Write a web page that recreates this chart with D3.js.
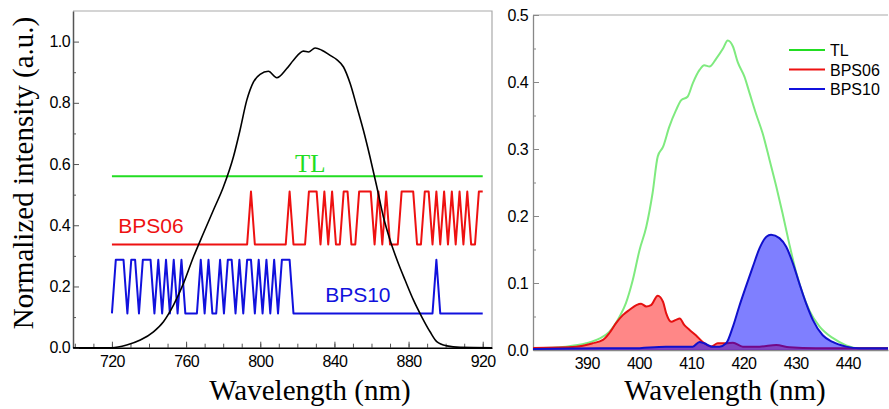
<!DOCTYPE html>
<html>
<head>
<meta charset="utf-8">
<script src="https://cdn.jsdelivr.net/npm/d3@7"></script>
<style>
  body { margin: 0; background: #fff; }
  svg { display: block; background: #fff; }
  .tick text { font-family: "Liberation Sans", Arial, sans-serif; font-size: 16px; letter-spacing: -0.6px; fill: #000; }
  .title { font-family: "Liberation Serif", "Times New Roman", serif; font-size: 29px; fill: #000; }
  .lbl { font-family: "Liberation Sans", Arial, sans-serif; font-size: 21px; }
  .legend text { font-family: "Liberation Sans", Arial, sans-serif; font-size: 16px; fill: #000; }
</style>
</head>
<body>
<svg width="889" height="409"></svg>
<script>
// ---- left panel: laser spectrum + binary phase sequences ----
var laserWl = [699, 720, 728, 735.3, 742.4, 747.8, 753.2, 758.6, 764, 769.3, 774.7, 780.1, 785.5, 789.1, 792.7,
  796.3, 799.9, 804.4, 808.9, 814.3, 817.9, 823.3, 826, 829.6, 833.2, 837.7, 841.3, 844.9, 848.5, 852.1,
  855.6, 859.2, 862.9, 866.4, 870, 874.5, 878.1, 882.6, 887.1, 891.6, 895.2, 900.6, 907.8, 925];
var laserInt = [0, 0, 0.009, 0.025, 0.052, 0.085, 0.139, 0.21, 0.297, 0.373, 0.449, 0.525, 0.623, 0.711, 0.808,
  0.868, 0.893, 0.903, 0.882, 0.912, 0.939, 0.969, 0.966, 0.979, 0.972, 0.955, 0.941, 0.917, 0.863, 0.787,
  0.711, 0.623, 0.525, 0.428, 0.352, 0.275, 0.221, 0.156, 0.101, 0.052, 0.02, 0.006, 0.001, 0];

var pulseStart = 720, pulseEnd = 920;
var tlLevel = 0.56;
var bps06Levels = [0.337, 0.51];
var bps10Levels = [0.112, 0.287];

var bps06Bits = [0,0,0,0,0,0,0,0,0,0, 0,0,0,0,0,0,0,0,0,0, 0,0,0,0,0,0,0,0,0,0, 0,0,0,0,0,0,1,0,0,0,
  0,0,0,0,0,0,1,0,0,0, 0,1,1,1,0,1,0,1,0,0, 1,1,0,0,1,1,1,1,0,1, 0,1,0,0,0,1,1,1,1,0,
  0,1,1,0,1,0,1,0,1,0, 1,0,1,0,0,1,1];
var bps10Bits = [0,1,1,1,0,1,1,0,1,1, 1,0,1,0,1,0,1,0,1,0, 0,0,0,1,0,1,0,0,1,0, 1,1,0,1,0,1,1,0,1,0,
  1,0,1,0,1,1,1,0,0,0, 0,0,0,0,0,0,0,0,0,0, 0,0,0,0,0,0,0,0,0,0, 0,0,0,0,0,0,0,0,0,0,
  0,0,0,0,1,0,0,0,0,0, 0,0,0,0,0,0,0];

var leftXTicks = [720, 760, 800, 840, 880, 920];
var leftYTicks = [0, 0.2, 0.4, 0.6, 0.8, 1.0];

// ---- right panel: TL spectra ----
var tlWl = [379.7, 386, 389.9, 392.4, 394.3, 396.3, 397.5, 398.8, 400.1, 401.4, 402.6, 403.6, 404.6, 405.8,
  407.1, 408.1, 409.3, 410.3, 411.6, 412.5, 413.5, 414.8, 416.1, 417, 418, 418.9, 420.2, 421.2, 422.4,
  423.7, 425, 426.3, 427.5, 428.8, 430.1, 431.4, 432.7, 434.6, 437.1, 439.7, 442.2, 447.7];
var tlInt = [0.0025, 0.005, 0.01, 0.017, 0.027, 0.05, 0.07, 0.104, 0.149, 0.184, 0.234, 0.289, 0.303, 0.333,
  0.358, 0.373, 0.378, 0.398, 0.418, 0.425, 0.423, 0.435, 0.45, 0.462, 0.453, 0.43, 0.408, 0.383, 0.353,
  0.323, 0.284, 0.244, 0.204, 0.158, 0.116, 0.083, 0.058, 0.035, 0.018, 0.007, 0.0025, 0.0025];

var b06Wl = [379.7, 388, 391.1, 393.1, 394.3, 395.6, 396.9, 398.2, 399.5, 400.4, 401.4, 402.3, 403.6, 404.6,
  405.2, 406.2, 407.1, 407.8, 408.7, 409.7, 410.9, 412.2, 413.8, 415.1, 416.7, 418, 419.9, 423.1, 426.3,
  428.8, 433.9, 447.7];
var b06Int = [0.003, 0.005, 0.01, 0.015, 0.025, 0.04, 0.052, 0.06, 0.067, 0.069, 0.065, 0.067, 0.081, 0.072,
  0.055, 0.042, 0.045, 0.047, 0.037, 0.03, 0.022, 0.012, 0.005, 0.01, 0.01, 0.011, 0.005, 0.005, 0.0075,
  0.004, 0.0025, 0.0025];

var b10Wl = [379.7, 392.4, 398.8, 405.2, 407.8, 410.3, 411.6, 412.5, 414.1, 415.4, 416.7, 418, 419.2, 420.5,
  421.8, 423.1, 424.4, 425.3, 426.9, 428.2, 429.5, 430.7, 432, 433.3, 435.2, 437.1, 439.7, 442.2, 447.7];
var b10Int = [0.0015, 0.0025, 0.0025, 0.005, 0.005, 0.005, 0.012, 0.01, 0.005, 0.005, 0.01, 0.035, 0.065, 0.095,
  0.124, 0.152, 0.169, 0.172, 0.167, 0.154, 0.129, 0.1, 0.07, 0.045, 0.022, 0.012, 0.005, 0.0025, 0.0025];

var rightXTicks = [390, 400, 410, 420, 430, 440];
var rightYTicks = [0, 0.1, 0.2, 0.3, 0.4, 0.5];
var legendNames = ["TL", "BPS06", "BPS10"];

var svg = d3.select("svg");

function zip(xs, ys) {
  return xs.map(function (v, i) { return [v, ys[i]]; });
}

// ================= left panel =================
var xL = d3.scaleLinear().domain([699, 925]).range([73, 492]);
var yL = d3.scaleLinear().domain([0, 1.1]).range([347.7, 11]);
var gL = svg.append("g");

// frame
gL.append("path")
  .attr("d", "M" + xL.range()[0] + "," + yL.range()[1] + "H" + xL.range()[1] + "V" + yL.range()[0])
  .attr("fill", "none").attr("stroke", "#aaa").attr("stroke-width", 1.2);

// minor ticks
gL.append("g")
  .attr("transform", "translate(0," + yL(0) + ")")
  .call(d3.axisBottom(xL).tickValues(d3.range(700, 925, 10)).tickSize(-4).tickFormat(""))
  .call(function (g) { g.select(".domain").remove(); g.selectAll("line").attr("stroke", "#555"); });
gL.append("g")
  .attr("transform", "translate(" + xL.range()[0] + ",0)")
  .call(d3.axisLeft(yL).tickValues(d3.range(0.1, 1.1, 0.2)).tickSize(-3).tickFormat(""))
  .call(function (g) { g.select(".domain").remove(); g.selectAll("line").attr("stroke", "#555"); });

// major axes
gL.append("g")
  .attr("transform", "translate(0," + yL(0) + ")")
  .call(d3.axisBottom(xL).tickValues(leftXTicks).tickSize(-6).tickPadding(8).tickSizeOuter(0))
  .call(function (g) {
    g.select(".domain").attr("stroke", "#000").attr("stroke-width", 1.5);
    g.selectAll("line").attr("stroke", "#555");
  });
gL.append("g")
  .attr("transform", "translate(" + xL.range()[0] + ",0)")
  .call(d3.axisLeft(yL).tickValues(leftYTicks).tickSize(-6).tickPadding(3).tickSizeOuter(0).tickFormat(d3.format(".1f")))
  .call(function (g) {
    g.select(".domain").attr("stroke", "#555").attr("stroke-width", 1.5);
    g.selectAll("line").attr("stroke", "#555");
  });

var lineL = d3.line()
  .x(function (d) { return xL(d[0]); })
  .y(function (d) { return yL(d[1]); });

// TL flat line
gL.append("path")
  .datum([[pulseStart, tlLevel], [pulseEnd, tlLevel]])
  .attr("d", lineL)
  .attr("fill", "none").attr("stroke", "#22dd22").attr("stroke-width", 2);

function pulsePoints(bits, levels) {
  var step = (pulseEnd - pulseStart) / (bits.length - 1);
  return bits.map(function (b, i) {
    return [pulseStart + i * step, levels[b]];
  });
}

gL.append("path")
  .datum(pulsePoints(bps06Bits, bps06Levels))
  .attr("d", lineL)
  .attr("fill", "none").attr("stroke", "#ee1111").attr("stroke-width", 2).attr("stroke-linejoin", "round");

gL.append("path")
  .datum(pulsePoints(bps10Bits, bps10Levels))
  .attr("d", lineL)
  .attr("fill", "none").attr("stroke", "#1111dd").attr("stroke-width", 2).attr("stroke-linejoin", "round");

// laser spectrum
gL.append("path")
  .datum(zip(laserWl, laserInt))
  .attr("d", lineL.curve(d3.curveMonotoneX))
  .attr("fill", "none").attr("stroke", "#000").attr("stroke-width", 1.6);

// in-plot labels
gL.append("text")
  .attr("x", xL(827)).attr("y", yL(0.575))
  .attr("text-anchor", "middle")
  .attr("font-family", "Liberation Serif, Times New Roman, serif")
  .attr("font-size", 25)
  .attr("fill", "#22dd22")
  .text("TL");
gL.append("text").attr("class", "lbl")
  .attr("x", xL(723.4)).attr("y", yL(0.375))
  .attr("fill", "#ee1111")
  .text("BPS06");
gL.append("text").attr("class", "lbl")
  .attr("x", xL(835)).attr("y", yL(0.149))
  .attr("fill", "#1111dd")
  .text("BPS10");

// titles
gL.append("text").attr("class", "title")
  .attr("transform", "translate(23,173) rotate(-90)")
  .attr("text-anchor", "middle")
  .attr("dominant-baseline", "central")
  .text("Normalized intensity (a.u.)");
gL.append("text").attr("class", "title")
  .attr("x", 310).attr("y", 400)
  .attr("text-anchor", "middle")
  .text("Wavelength (nm)");

// ================= right panel =================
var xR = d3.scaleLinear().domain([379.7, 447.7]).range([533, 888]);
var yR = d3.scaleLinear().domain([0, 0.5]).range([350, 15]);
var gR = svg.append("g");

gR.append("line")
  .attr("x1", xR.range()[0]).attr("x2", xR.range()[1])
  .attr("y1", yR(0.5)).attr("y2", yR(0.5))
  .attr("stroke", "#aaa").attr("stroke-width", 1.2);

gR.append("g")
  .attr("transform", "translate(" + xR.range()[0] + ",0)")
  .call(d3.axisLeft(yR).tickValues(d3.range(0.05, 0.5, 0.1)).tickSize(-3).tickFormat(""))
  .call(function (g) { g.select(".domain").remove(); g.selectAll("line").attr("stroke", "#888"); });
gR.append("g")
  .attr("transform", "translate(" + xR.range()[0] + ",0)")
  .call(d3.axisLeft(yR).tickValues(rightYTicks).tickSize(-6).tickPadding(5).tickSizeOuter(0).tickFormat(d3.format(".1f")))
  .call(function (g) {
    g.select(".domain").attr("stroke", "#888").attr("stroke-width", 1.3);
    g.selectAll("line").attr("stroke", "#888");
  });
gR.append("g")
  .attr("transform", "translate(0," + yR(0) + ")")
  .call(d3.axisBottom(xR).tickValues(rightXTicks).tickSize(0).tickPadding(8).tickSizeOuter(0))
  .call(function (g) { g.select(".domain").attr("stroke", "#888").attr("stroke-width", 1.3); });

var lineR = d3.line()
  .curve(d3.curveMonotoneX)
  .x(function (d) { return xR(d[0]); })
  .y(function (d) { return yR(d[1]); });
var areaR = d3.area()
  .curve(d3.curveMonotoneX)
  .x(function (d) { return xR(d[0]); })
  .y0(yR(0))
  .y1(function (d) { return yR(d[1]); });

var tlData = zip(tlWl, tlInt);
var b06Data = zip(b06Wl, b06Int);
var b10Data = zip(b10Wl, b10Int);

gR.append("path").datum(tlData).attr("d", lineR)
  .attr("fill", "none").attr("stroke", "#7fea7f").attr("stroke-width", 2);

gR.append("path").datum(b06Data).attr("d", areaR)
  .attr("fill", "rgba(255,0,0,0.47)");
gR.append("path").datum(b06Data).attr("d", lineR)
  .attr("fill", "none").attr("stroke", "#e51010").attr("stroke-width", 2);

gR.append("path").datum(b10Data).attr("d", areaR)
  .attr("fill", "rgba(0,0,255,0.5)");
gR.append("path").datum(b10Data).attr("d", lineR)
  .attr("fill", "none").attr("stroke", "#1010cc").attr("stroke-width", 2);

// legend
var legendColors = ["#22dd22", "#ee1111", "#1111dd"];
var legend = gR.append("g").attr("class", "legend");
legendNames.forEach(function (name, i) {
  var yy = 50 + i * 19.5;
  legend.append("line")
    .attr("x1", 789).attr("x2", 825).attr("y1", yy).attr("y2", yy)
    .attr("stroke", legendColors[i]).attr("stroke-width", 2);
  legend.append("text")
    .attr("x", 830).attr("y", yy + 6)
    .text(name);
});

gR.append("text").attr("class", "title")
  .attr("x", 725).attr("y", 400)
  .attr("text-anchor", "middle")
  .text("Wavelength (nm)");
</script>
</body>
</html>
